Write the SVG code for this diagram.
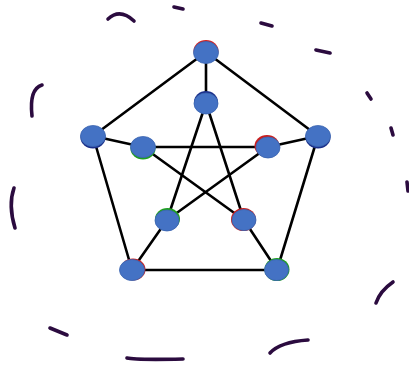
<svg xmlns="http://www.w3.org/2000/svg" width="409" height="370" viewBox="0 0 409 370">
<style>
.e{stroke:#000;stroke-width:2.6;fill:none;stroke-linecap:round}
.n{fill:#4472C4;stroke:#3b64b0;stroke-width:0.8}
.ink{stroke:#2B0B3F;stroke-width:3.6;fill:none;stroke-linecap:round;stroke-linejoin:round}
</style>
<rect width="409" height="370" fill="#fff"/>
<g id="ink">
<path class="ink" d="M108,19 Q120,8 134,21"/>
<path class="ink" d="M174,7 L183,9"/>
<path class="ink" d="M261,23 L272,26"/>
<path class="ink" d="M316,50 L330,53"/>
<path class="ink" d="M367,93 L371,99"/>
<path class="ink" d="M391,128 L393,135"/>
<path class="ink" d="M407,182 L408,191"/>
<path class="ink" d="M42,85 Q29,89 32,116"/>
<path class="ink" d="M14,188 Q8,205 15,228"/>
<path class="ink" d="M393,282 Q380,291 376,303"/>
<path class="ink" d="M50,328 L67,335"/>
<path class="ink" d="M127,358 Q135,360 183,359"/>
<path class="ink" d="M270,353 Q280,342 308,340"/>
</g>
<g id="connectors">
<line class="e" x1="206" y1="52" x2="93" y2="136"/>
<line class="e" x1="206" y1="52" x2="318" y2="136"/>
<line class="e" x1="93" y1="136" x2="132" y2="270"/>
<line class="e" x1="318" y1="136" x2="277" y2="270"/>
<line class="e" x1="132" y1="270" x2="277" y2="270"/>
<line class="e" x1="206" y1="52" x2="206" y2="103"/>
<line class="e" x1="93" y1="136" x2="143" y2="147"/>
<line class="e" x1="318" y1="136" x2="268" y2="147"/>
<line class="e" x1="132" y1="270" x2="167" y2="220"/>
<line class="e" x1="277" y1="270" x2="244" y2="220"/>
<line class="e" x1="206" y1="103" x2="167" y2="220"/>
<line class="e" x1="206" y1="103" x2="244" y2="220"/>
<line class="e" x1="143" y1="147" x2="268" y2="147"/>
<line class="e" x1="143" y1="147" x2="244" y2="220"/>
<line class="e" x1="268" y1="147" x2="167" y2="220"/>
</g>
<g id="n1"><ellipse cx="206" cy="51" rx="12.5" ry="11" fill="#d42020"/><ellipse class="n" cx="206" cy="52.5" rx="12.5" ry="11"/></g>
<g id="n2"><ellipse cx="206" cy="102" rx="12" ry="11" fill="#1a2f8a"/><ellipse class="n" cx="206" cy="103.5" rx="12" ry="10.5"/></g>
<g id="n3"><ellipse cx="93" cy="137.5" rx="12.5" ry="11" fill="#1a2f8a"/><ellipse class="n" cx="93" cy="136" rx="12.5" ry="10.5"/></g>
<g id="n4"><ellipse cx="143" cy="148.5" rx="12.5" ry="11" fill="#1fa01f"/><ellipse class="n" cx="143" cy="147" rx="12.5" ry="10.5"/></g>
<g id="n5"><ellipse cx="267" cy="146" rx="12.5" ry="11" fill="#c81e1e"/><ellipse class="n" cx="268" cy="147.5" rx="12" ry="10.5"/></g>
<g id="n6"><ellipse cx="318" cy="137.5" rx="12.5" ry="11" fill="#1a2f8a"/><ellipse class="n" cx="318" cy="136" rx="12.5" ry="10.5"/></g>
<g id="n7"><ellipse cx="167.5" cy="219" rx="12.5" ry="11" fill="#1fa01f"/><ellipse class="n" cx="167" cy="220.5" rx="12" ry="10.5"/></g>
<g id="n8"><ellipse cx="243.5" cy="219.5" rx="12.5" ry="11.5" fill="#c81e1e"/><ellipse class="n" cx="244" cy="220" rx="12" ry="10.5"/></g>
<g id="n9"><ellipse cx="133" cy="269.5" rx="12.5" ry="11" fill="#c81e1e"/><ellipse class="n" cx="132" cy="270" rx="12.5" ry="10.5"/></g>
<g id="n10"><ellipse cx="277" cy="269.5" rx="12.5" ry="11.5" fill="#1fa01f"/><ellipse class="n" cx="276.5" cy="270" rx="12" ry="10.5"/></g>
</svg>
